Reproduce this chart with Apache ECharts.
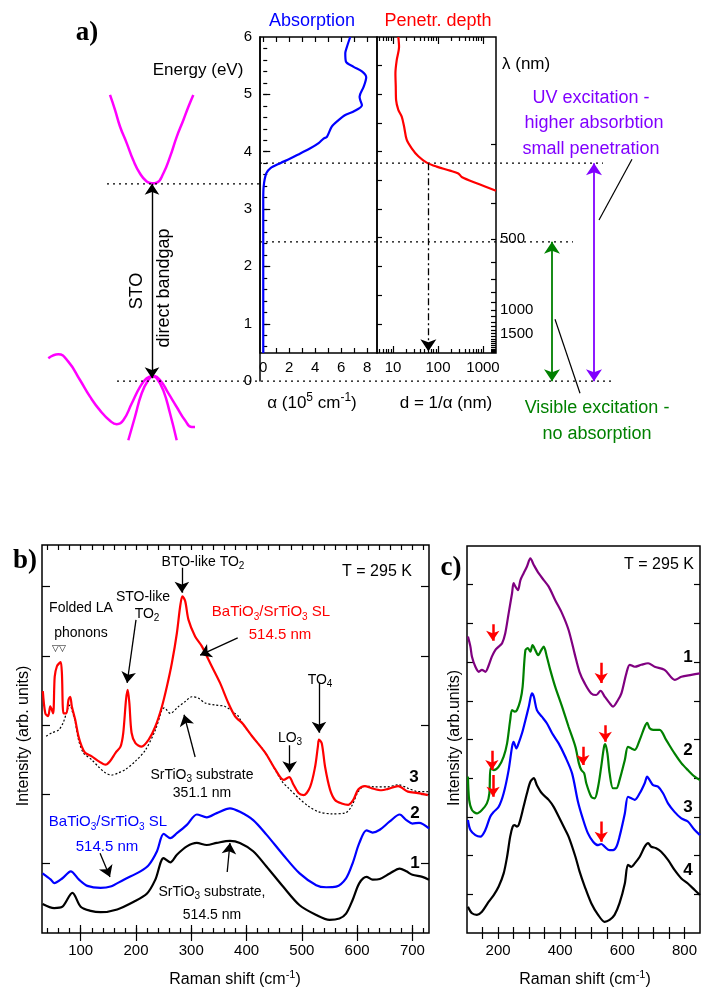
<!DOCTYPE html>
<html>
<head>
<meta charset="utf-8">
<title>STO absorption and Raman spectra</title>
<script src="https://cdn.jsdelivr.net/npm/echarts@6.0.0/dist/echarts.min.js"></script>
<style>
  html, body { margin: 0; padding: 0; background: #fff; }
  #chart { width: 701px; height: 992px; }
</style>
</head>
<body>
<div id="chart"></div>
<script>
// ---------- a) band sketch: [schematic position, energy eV] ----------
var bandCB = [[110,4.99],[115,4.73],[120,4.44],[126.7,4.15],[133.3,3.85],[140,3.62],[146.7,3.48],[151.7,3.45],[156.7,3.46],[163.3,3.62],[170,3.91],[176.7,4.26],[183.3,4.55],[188.3,4.78],[193.3,4.99]];
var bandVB1 = [[48.3,0.40],[58.3,0.47],[68.3,0.34],[80,0.02],[90,-0.27],[100,-0.51],[110,-0.69],[116.7,-0.75],[123.3,-0.68],[131.7,-0.39],[140,-0.10],[146.7,0.05],[152.7,0.09],[160,0.02],[168.3,-0.21],[176.7,-0.45],[185,-0.68],[191.7,-0.80],[195,-0.80]];
var bandVB2 = [[128.3,-1.03],[135,-0.62],[141.7,-0.21],[148.3,0.02],[152.7,0.08],[156.7,0.05],[163.3,-0.16],[170,-0.56],[176.7,-1.03]];

// absorption alpha (10^5 cm^-1) vs energy (eV)
var absE     = [6.0,5.83,5.72,5.57,5.48,5.40,5.30,5.13,4.96,4.90,4.81,4.70,4.64,4.55,4.44,4.26,4.23,4.15,4.06,3.97,3.88,3.80,3.71,3.62,3.39,3.16,2.5,1.5,0.49];
var absAlpha = [6.69,6.44,6.31,6.36,6.95,7.59,7.92,7.72,7.41,7.46,7.59,6.95,6.31,5.79,5.28,4.90,4.64,4.26,3.62,2.85,2.08,1.31,0.54,0.23,0.03,0.0,0.0,0.0,0.0];

// penetration depth d (nm) vs energy (eV)
var penE = [6.0,5.83,5.60,5.37,5.13,4.90,4.73,4.61,4.44,4.21,4.06,3.92,3.81,3.74,3.67,3.62,3.56,3.45,3.32];
var penD = [13.1,13.6,12.1,11.3,11.5,11.7,13.1,15.6,17.6,20.1,26.0,36.5,56,93,185,283,336,723,1945];

var gapE = 3.44, uvE = 3.8, visE = 2.43, probeD = 61;
var alphaLabels = [0,2,4,6,8];
var depthLabels = [10,100,1000];
var lambdaLabels = [500,1000,1500];

// ---------- b) Raman spectra, 295 K ----------
var b1x = [31,52,67,85,100,118,136,166,196,220,235,250,262,274,292,310,328,346,370,388,412,436,466,496,526,550,568,580,592,604,617,628,641,659,677,689,700,718,730];
var b1y = [0.42,0.36,0.38,0.58,0.38,0.32,0.30,0.34,0.45,0.57,0.77,1.08,1.02,1.13,1.25,1.30,1.27,1.30,1.33,1.30,1.18,0.96,0.67,0.40,0.26,0.19,0.21,0.28,0.48,0.72,0.81,0.77,0.78,0.86,0.93,0.89,0.84,0.81,0.77];
var b2x = [31,46,52,67,82,97,112,136,154,178,208,223,238,250,262,274,292,310,328,346,370,388,412,436,466,496,526,544,562,580,592,604,617,628,641,659,677,689,700,712,730];
var b2y = [0.86,0.77,0.72,0.79,0.89,0.77,0.68,0.65,0.67,0.77,0.89,0.98,1.18,1.43,1.37,1.44,1.56,1.71,1.67,1.73,1.80,1.75,1.63,1.42,1.13,0.86,0.69,0.66,0.67,0.79,1.01,1.30,1.48,1.45,1.49,1.61,1.71,1.63,1.58,1.59,1.51];
var b3x = [31.5,36,41,45,50,53,57,62,64,66,69,74,78,81,84,90,96,102,108,120,132,145,153,163,172,177,182,185,188,192,199,210,223,235,247,256,265,274,280,284,289,295,307,319,337,352,367,379,385,392,410,434,452,467,477,485,494,503,515,524,529,531,536,542,551,560,572,584,593,602,614,626,644,656,674,692,710,728];
var b3y = [3.49,3.17,3.13,3.27,3.17,3.70,3.85,3.90,3.91,3.75,3.17,3.17,3.37,3.41,3.27,3.08,2.84,2.69,2.60,2.55,2.48,2.43,2.48,2.60,2.69,2.89,3.37,3.51,3.32,2.89,2.74,2.69,2.79,2.98,3.27,3.56,3.90,4.33,4.72,4.86,4.79,4.52,4.28,4.14,3.85,3.61,3.32,3.13,3.08,3.03,2.84,2.60,2.36,2.21,2.25,2.14,2.02,1.99,2.11,2.40,2.69,2.79,2.74,2.40,2.07,1.92,1.87,1.85,1.92,2.07,2.12,2.09,2.06,2.08,2.12,2.04,2.02,1.99];
var bSubx = [37.5,48,60,69,78,81,84,90,96,105,120,132,145,156,168,181,199,217,235,247,251,262,277,289,301,313,325,343,361,379,385,392,410,434,464,476,494,512,530,554,578,590,602,614,632,656,674,692,710,728];
var bSuby = [2.84,2.89,2.93,3.05,3.27,3.29,3.22,3.05,2.79,2.60,2.50,2.40,2.31,2.28,2.31,2.36,2.48,2.64,2.93,3.22,3.25,3.17,3.27,3.34,3.41,3.39,3.32,3.29,3.27,3.17,3.13,3.03,2.84,2.60,2.19,2.09,1.95,1.83,1.75,1.72,1.73,1.83,2.04,2.12,2.11,2.11,2.14,2.09,2.04,2.04];
// annotation arrows [x0, y0, x1, y1]
var bArrows = [[283,5.27,283,4.91],[200,4.52,184,3.61],[384,4.26,316,4.01],[531,3.61,531,2.89],[478,2.71,478,2.32],[307,2.54,287,3.15],[135,1.15,153,0.81],[365,0.88,370,1.30]];

// ---------- c) Raman spectra, 295 K ----------
var c1x = [103,111,116,127,138,148,159,170,180,191,202,213,223,234,245,250,256,264,272,282,293,304,315,331,347,363,384,406,427,447,462,479,500,516,530,543,559,570,586,597,613,624,640,661,683,704,736,769,790,822,850];
var c1y = [7.66,7.40,7.14,6.88,6.75,6.80,6.75,6.92,7.14,7.31,7.40,7.49,7.74,8.26,8.78,9.04,8.95,8.86,9.12,9.29,9.47,9.68,9.51,9.29,9.12,8.95,8.60,8.26,7.83,7.20,6.75,6.45,6.19,6.15,6.26,6.11,5.94,5.85,6.02,6.19,6.71,6.93,6.88,6.93,6.97,6.88,6.80,6.54,6.62,6.67,6.71];
var c2x = [103,107,116,132,148,164,172,176,186,202,218,229,239,245,254,261,272,279,288,296,304,311,320,329,339,347,357,368,384,406,427,449,460,468,477,484,500,511,522,532,541,545,552,559,570,581,591,608,618,629,640,656,672,680,688,699,720,741,768,790,811,833,850];
var c2y = [4.04,3.44,3.18,3.09,3.18,3.35,3.61,4.26,4.21,4.30,4.56,4.90,5.50,5.76,5.72,5.76,6.02,6.36,7.31,7.36,7.27,7.44,7.31,7.18,7.31,7.40,7.14,6.80,6.36,5.85,5.33,4.81,4.39,4.21,4.13,3.87,3.52,3.48,3.78,4.30,4.81,4.88,4.64,4.13,3.74,3.74,3.95,4.47,4.81,4.77,4.73,4.99,5.33,5.43,5.29,5.25,5.25,4.99,4.64,4.39,4.21,4.04,3.95];
var c3x = [103,111,127,143,159,175,186,202,218,234,245,250,259,266,277,288,299,309,315,325,341,357,374,395,416,438,457,473,489,506,522,532,543,559,570,581,591,608,618,629,640,656,672,680,688,699,715,731,747,768,790,811,833,850];
var c3y = [2.92,2.66,2.53,2.49,2.66,3.01,3.13,3.26,3.61,4.21,4.81,4.94,4.77,4.90,5.16,5.50,5.85,6.19,6.11,5.76,5.59,5.42,5.16,4.90,4.56,4.13,3.40,2.95,2.58,2.36,2.27,2.30,2.23,2.14,2.14,2.23,2.49,3.09,3.52,3.48,3.44,3.61,3.87,4.04,3.95,3.82,3.78,3.61,3.35,3.13,2.96,2.88,2.66,2.53];
var c4x = [103,116,132,148,170,186,202,218,229,239,247,253,261,268,282,293,304,315,325,341,363,379,395,411,427,449,462,479,500,522,543,559,575,591,608,618,629,640,656,672,683,693,709,725,747,768,790,811,833,850];
var c4y = [0.68,0.51,0.47,0.55,0.81,0.98,1.20,1.54,1.97,2.49,2.75,2.79,2.75,2.83,3.26,3.61,3.91,4.00,3.82,3.61,3.44,3.26,3.01,2.75,2.49,1.97,1.60,1.20,0.77,0.47,0.29,0.34,0.47,0.77,1.28,1.76,1.71,1.80,1.97,2.23,2.32,2.23,2.19,2.10,1.89,1.63,1.41,1.28,1.11,0.98];
var cArrows = [[183,7.98,183,7.55],[532,6.98,532,6.46],[180,4.71,180,4.21],[473,4.81,473,4.34],[545,5.37,545,4.94],[184,4.08,184,3.52],[532,2.88,532,2.36]];

var FONT = '"Liberation Sans", Arial, Helvetica, sans-serif';
var SERIF = '"Liberation Serif", "Times New Roman", serif';

function steps(a, b, s) {
    var r = [];
    for (var v = a; v <= b + 1e-9; v += s) r.push(+v.toFixed(4));
    return r;
}
function pairs(xs, ys) {
    return xs.map(function (v, i) { return [v, ys[i]]; });
}

// text with _{sub} and ^{sup}
function label(x, y, str, size, color, o) {
    o = o || {};
    var fam = o.family || FONT, fw = o.bold ? 'bold' : 'normal';
    var out = '', re = /([_^])\{([^}]*)\}/g, last = 0, m;
    while ((m = re.exec(str)) !== null) {
        if (m.index > last) out += '{n|' + str.slice(last, m.index) + '}';
        out += (m[1] === '_' ? '{s|' : '{p|') + m[2] + '}';
        last = re.lastIndex;
    }
    if (last < str.length) out += '{n|' + str.slice(last) + '}';
    var small = Math.round(size * 0.68), lh = Math.round(size * 1.3);
    return {
        type: 'text', x: x, y: y, rotation: o.rotation || 0, z: 100, silent: true,
        style: {
            text: out, align: o.align || 'center', verticalAlign: 'middle',
            rich: {
                n: {fontSize: size, fontFamily: fam, fontWeight: fw, fill: color, lineHeight: lh},
                s: {fontSize: small, fontFamily: fam, fill: color, lineHeight: small, verticalAlign: 'bottom'},
                p: {fontSize: small, fontFamily: fam, fill: color, lineHeight: small, verticalAlign: 'top'}
            }
        }
    };
}

function hidden(grid, min, max) {
    return {type: 'value', gridIndex: grid, min: min, max: max, show: false};
}
function ax(grid, pos, min, max, ticks, len, labels, fmt, margin) {
    return {
        type: 'value', gridIndex: grid, position: pos, min: min, max: max,
        axisLine: {show: false}, splitLine: {show: false},
        axisTick: {show: true, inside: true, length: len, customValues: ticks, lineStyle: {color: '#000', width: 1.2}},
        axisLabel: {show: !!labels, customValues: labels || [], formatter: fmt, margin: margin || 6,
                    color: '#000', fontSize: 15, fontFamily: FONT}
    };
}
function spec(xi, yi, data, color, width, type, smooth) {
    return {type: 'line', xAxisIndex: xi, yAxisIndex: yi, data: data, showSymbol: false,
            smooth: smooth === undefined ? 0.3 : smooth, silent: true,
            lineStyle: {color: color, width: width, type: type || 'solid'}};
}
function arrows(xi, yi, segs, color, width, size, heads) {
    return {type: 'lines', coordinateSystem: 'cartesian2d', xAxisIndex: xi, yAxisIndex: yi,
            symbol: heads, symbolSize: size, silent: true, z: 4,
            lineStyle: {color: color, width: width, opacity: 1, curveness: 0},
            data: segs.map(function (s) { return {coords: [[s[0], s[1]], [s[2], s[3]]]}; })};
}

var log10 = function (v) { return Math.log10(v); };
var logMinor = [5,6,7,8,9,20,30,40,50,60,70,80,90,200,300,400,500,600,700,800,900].map(log10);
var lambdaTicks = steps(300, 2500, 100).map(function (l) { return 1240 / l; });
var border = {show: true, borderColor: '#000', borderWidth: 1.5, backgroundColor: 'transparent'};

var chart = echarts.init(document.getElementById('chart'), null, {renderer: 'canvas'});
chart.setOption({
    animation: false,
    backgroundColor: '#fff',
    grid: [
        {left: 0, top: 37, width: 701, height: 413, show: false},
        {left: 260, top: 37, width: 117, height: 344, show: false},
        Object.assign({left: 260, top: 37, width: 117, height: 316}, border),
        Object.assign({left: 377, top: 37, width: 119, height: 316}, border),
        Object.assign({left: 42, top: 545, width: 387, height: 388}, border),
        Object.assign({left: 467, top: 546, width: 233, height: 387}, border)
    ],
    xAxis: [
        hidden(0, 0, 701),
        hidden(1, 0, 1),
        ax(2, 'bottom', -0.25, 8.75, steps(0, 8, 1), 5, alphaLabels, null, 7),
        ax(2, 'top', -0.25, 8.75, steps(0, 8, 1), 5),
        ax(3, 'bottom', log10(4.4), log10(1945), logMinor, 4, depthLabels.map(log10),
           function (v) { return Math.round(Math.pow(10, v)); }, 7),
        ax(3, 'bottom', log10(4.4), log10(1945), [1, 2, 3], 7),
        ax(3, 'top', log10(4.4), log10(1945), logMinor, 4),
        ax(3, 'top', log10(4.4), log10(1945), [1, 2, 3], 7),
        ax(4, 'bottom', 30, 730, steps(100, 700, 100), 8, steps(100, 700, 100), null, 10),
        ax(4, 'top', 30, 730, steps(100, 700, 100), 8),
        ax(4, 'bottom', 30, 730, steps(40, 720, 20), 5),
        ax(4, 'top', 30, 730, steps(40, 720, 20), 5),
        ax(5, 'bottom', 100, 850, steps(150, 800, 50), 6, [200, 400, 600, 800], null, 10),
        ax(5, 'top', 100, 850, steps(150, 800, 50), 6)
    ],
    yAxis: [
        hidden(0, -1.2, 6),
        {type: 'value', gridIndex: 1, position: 'left', min: 0, max: 6, interval: 1,
         axisLine: {show: true, lineStyle: {color: '#000', width: 1.5}}, axisTick: {show: false},
         splitLine: {show: false},
         axisLabel: {margin: 8, color: '#000', fontSize: 15, fontFamily: FONT}},
        ax(2, 'left', 0.49, 6, steps(0.6, 5.8, 0.2), 4),
        ax(2, 'left', 0.49, 6, steps(1, 5, 1), 7),
        ax(3, 'left', 0.49, 6, steps(1, 5.5, 0.5), 5),
        ax(3, 'right', 0.49, 6, lambdaTicks, 5, lambdaLabels.map(function (l) { return 1240 / l; }),
           function (v) { return Math.round(1240 / v); }, 4),
        ax(4, 'left', 0, 5.6, steps(1, 5, 1), 8),
        ax(4, 'right', 0, 5.6, steps(1, 5, 1), 8),
        ax(5, 'left', 0, 10, steps(1, 9, 1), 6),
        ax(5, 'right', 0, 10, steps(1, 9, 1), 6)
    ],
    series: [
        // a) band sketch
        spec(0, 0, bandCB, '#ff00ff', 2.5, 'solid', true),
        spec(0, 0, bandVB1, '#ff00ff', 2.5, 'solid', true),
        spec(0, 0, bandVB2, '#ff00ff', 2.5, 'solid', true),
        spec(0, 0, [[107, gapE], [259, gapE]], '#000', 1.3, [2, 4], false),
        spec(0, 0, [[260, uvE], [603, uvE]], '#000', 1.3, [2, 4], false),
        spec(0, 0, [[260, visE], [573, visE]], '#000', 1.3, [2, 4], false),
        spec(0, 0, [[117, 0], [613, 0]], '#000', 1.3, [2, 4], false),
        arrows(0, 0, [[152, gapE, 152, 0.05]], '#000', 1.4, 11, ['arrow', 'arrow']),
        arrows(0, 0, [[594, uvE, 594, 0.0]], '#8000ff', 1.8, 12, ['arrow', 'arrow']),
        arrows(0, 0, [[552, visE, 552, 0.0]], '#008000', 1.8, 12, ['arrow', 'arrow']),
        arrows(0, 0, [[632, 3.87, 599, 2.81], [555, 1.08, 580, -0.21]], '#000', 1.2, 1, ['none', 'none']),
        // absorption and penetration depth
        spec(2, 2, pairs(absAlpha, absE), '#0000ff', 2.2, 'solid', 0.3),
        spec(4, 4, pairs(penD.map(log10), penE), '#ff0000', 2.2, 'solid', 0.3),
        {type: 'lines', coordinateSystem: 'cartesian2d', xAxisIndex: 4, yAxisIndex: 4,
         symbol: ['none', 'arrow'], symbolSize: 12, silent: true, z: 4,
         lineStyle: {color: '#000', width: 1.3, opacity: 1, type: [7, 3, 2, 3]},
         data: [{coords: [[log10(probeD), uvE], [log10(probeD), 0.52]]}]},
        // b)
        spec(8, 6, pairs(bSubx, bSuby), '#000', 1.2, [2, 2]),
        spec(8, 6, pairs(b1x, b1y), '#000', 2.2),
        spec(8, 6, pairs(b2x, b2y), '#0000ff', 2.2),
        spec(8, 6, pairs(b3x, b3y), '#ff0000', 2.2),
        arrows(8, 6, bArrows, '#000', 1.3, 11, ['none', 'arrow']),
        // c)
        spec(12, 8, pairs(c1x, c1y), '#800080', 2.2),
        spec(12, 8, pairs(c2x, c2y), '#008000', 2.2),
        spec(12, 8, pairs(c3x, c3y), '#0000ff', 2.2),
        spec(12, 8, pairs(c4x, c4y), '#000', 2.2),
        arrows(12, 8, cArrows, '#ff0000', 2.5, 10, ['none', 'arrow'])
    ],
    graphic: [
        // a)
        label(87, 33, 'a)', 27, '#000', {bold: true, family: SERIF}),
        label(198, 70, 'Energy (eV)', 17, '#000'),
        label(312, 21, 'Absorption', 18, '#0000ff'),
        label(438, 21, 'Penetr. depth', 18, '#ff0000'),
        label(312, 403, '\u03b1 (10^{5} cm^{-1})', 17, '#000'),
        label(446, 403, 'd = 1/\u03b1 (nm)', 17, '#000'),
        label(502, 64, '\u03bb (nm)', 17, '#000', {align: 'left'}),
        label(137, 291, 'STO', 18, '#000', {rotation: Math.PI / 2}),
        label(164, 288, 'direct bandgap', 18, '#000', {rotation: Math.PI / 2}),
        label(591, 98, 'UV excitation -', 18, '#8000ff'),
        label(594, 123, 'higher absorbtion', 18, '#8000ff'),
        label(591, 149, 'small penetration', 18, '#8000ff'),
        label(597, 408, 'Visible excitation -', 18, '#008000'),
        label(597, 434, 'no absorption', 18, '#008000'),
        // b)
        label(25, 561, 'b)', 27, '#000', {bold: true, family: SERIF}),
        label(377, 572, 'T = 295 K', 16, '#000'),
        label(203, 562, 'BTO-like TO_{2}', 14, '#000'),
        label(143, 597, 'STO-like', 14, '#000'),
        label(147, 614, 'TO_{2}', 14, '#000'),
        label(81, 608, 'Folded LA', 14, '#000'),
        label(81, 633, 'phonons', 14, '#000'),
        label(59, 649, '\u25bd\u25bd', 9, '#000'),
        label(271, 612, 'BaTiO_{3}/SrTiO_{3} SL', 15, '#ff0000'),
        label(280, 635, '514.5 nm', 15, '#ff0000'),
        label(320, 680, 'TO_{4}', 14, '#000'),
        label(290, 738, 'LO_{3}', 14, '#000'),
        label(202, 775, 'SrTiO_{3} substrate', 14, '#000'),
        label(202, 793, '351.1 nm', 14, '#000'),
        label(414, 777, '3', 17, '#000', {bold: true}),
        label(415, 813, '2', 17, '#000', {bold: true}),
        label(415, 863, '1', 17, '#000', {bold: true}),
        label(108, 822, 'BaTiO_{3}/SrTiO_{3} SL', 15, '#0000ff'),
        label(107, 847, '514.5 nm', 15, '#0000ff'),
        label(212, 892, 'SrTiO_{3} substrate,', 14, '#000'),
        label(212, 915, '514.5 nm', 14, '#000'),
        label(24, 736, 'Intensity (arb. units)', 16, '#000', {rotation: Math.PI / 2}),
        label(235, 980, 'Raman shift (cm^{-1})', 16, '#000'),
        // c)
        label(451, 568, 'c)', 27, '#000', {bold: true, family: SERIF}),
        label(659, 565, 'T = 295 K', 16, '#000'),
        label(688, 657, '1', 17, '#000', {bold: true}),
        label(688, 750, '2', 17, '#000', {bold: true}),
        label(688, 807, '3', 17, '#000', {bold: true}),
        label(688, 870, '4', 17, '#000', {bold: true}),
        label(455, 738, 'Intensity (arb.units)', 16, '#000', {rotation: Math.PI / 2}),
        label(585, 980, 'Raman shift (cm^{-1})', 16, '#000')
    ]
});
</script>
</body>
</html>
